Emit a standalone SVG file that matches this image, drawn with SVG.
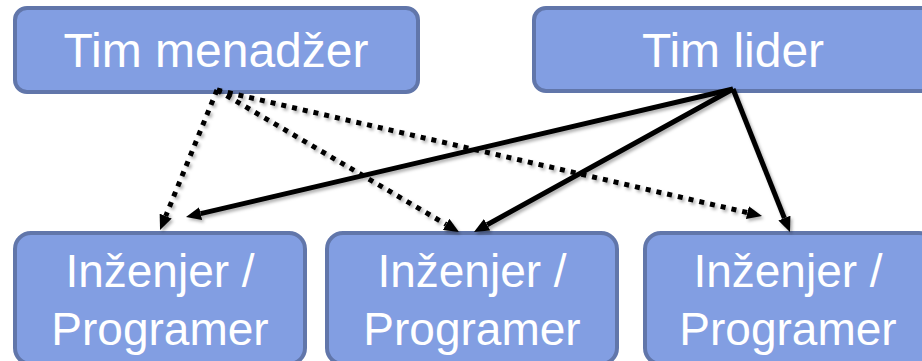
<svg xmlns="http://www.w3.org/2000/svg" width="922" height="361" viewBox="0 0 922 361">
  <style>
    .box { fill: #829ee2; stroke: #6176aa; stroke-width: 4; }
    .label { fill: #ffffff; font-family: "Liberation Sans", Arial, sans-serif; font-size: 48px; text-anchor: middle; }
    .small { font-size: 46px; }
    .solid { stroke: #000000; stroke-width: 5; fill: none; marker-end: url(#head); }
    .dotted { stroke: #000000; stroke-width: 5; fill: none; stroke-dasharray: 5 6; marker-end: url(#head); }
  </style>
  <defs>
    <marker id="head" viewBox="0 0 15 13" markerWidth="15" markerHeight="13" refX="0" refY="6.5" orient="auto" markerUnits="userSpaceOnUse">
      <path d="M0,0 L15,6.5 L0,13 z" fill="#000000"/>
    </marker>
    <filter id="shadow" x="-10%" y="-10%" width="120%" height="130%">
      <feDropShadow dx="2" dy="2.5" stdDeviation="1.5" flood-color="#000000" flood-opacity="0.3"/>
    </filter>
  </defs>

  <rect width="922" height="361" fill="#ffffff"/>

  <g id="tim-menadzer">
    <rect class="box" x="15" y="8" width="403" height="84" rx="12"/>
    <text class="label" x="216" y="67">Tim menadžer</text>
  </g>
  <g id="tim-lider">
    <rect class="box" x="534" y="8" width="400" height="83" rx="12"/>
    <text class="label" x="733" y="67">Tim lider</text>
  </g>

  <g id="inzenjer-1">
    <rect class="box" x="15" y="233" width="290" height="131" rx="16"/>
    <text class="label small" x="160" y="287">Inženjer /</text>
    <text class="label small" x="160" y="345">Programer</text>
  </g>
  <g id="inzenjer-2">
    <rect class="box" x="327" y="233" width="290" height="131" rx="16"/>
    <text class="label small" x="472" y="287">Inženjer /</text>
    <text class="label small" x="472" y="345">Programer</text>
  </g>
  <g id="inzenjer-3">
    <rect class="box" x="645" y="233" width="290" height="131" rx="16"/>
    <text class="label small" x="788" y="287">Inženjer /</text>
    <text class="label small" x="788" y="345">Programer</text>
  </g>

  <g id="connectors" filter="url(#shadow)">
    <!-- dotted: Tim menadžer to each engineer -->
    <line class="dotted" x1="217" y1="90" x2="165.7" y2="216.1"/>
    <line class="dotted" x1="217" y1="90" x2="446.1" y2="224.4"/>
    <line class="dotted" x1="217" y1="90" x2="747.4" y2="212.6"/>
    <!-- solid: Tim lider to each engineer -->
    <line class="solid" x1="733" y1="89" x2="200.6" y2="213.6"/>
    <line class="solid" x1="733" y1="89" x2="487.1" y2="224.8"/>
    <line class="solid" x1="733" y1="89" x2="784.4" y2="218.1"/>
  </g>
</svg>
